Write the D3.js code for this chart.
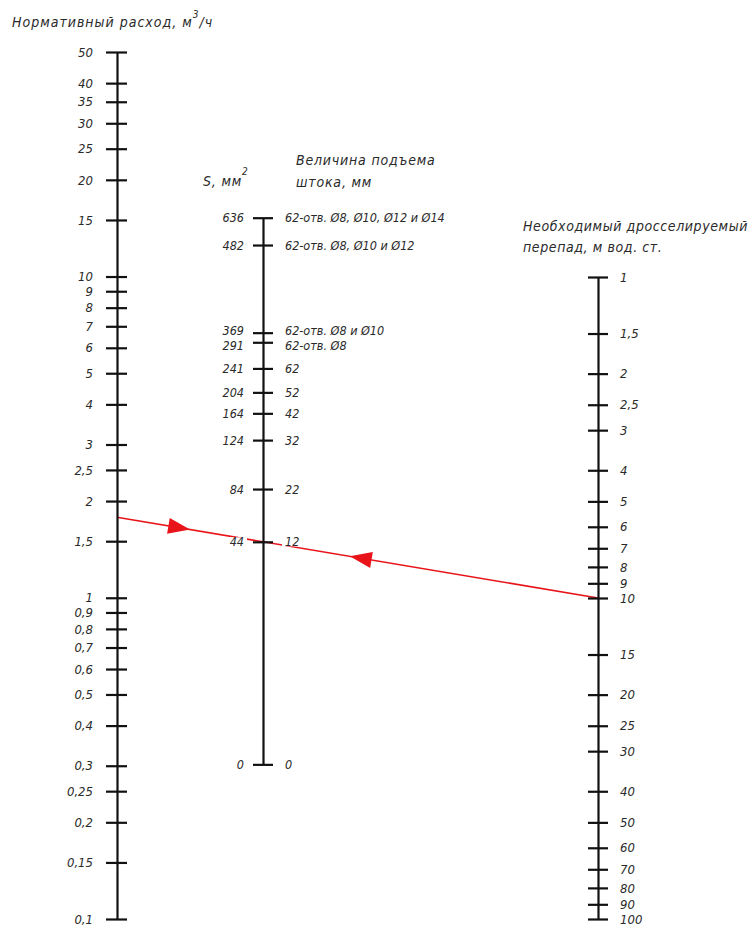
<!DOCTYPE html>
<html><head><meta charset="utf-8">
<script src="https://cdn.jsdelivr.net/npm/d3@7"></script>
<style>
html,body{margin:0;padding:0;background:#fff;}
text{font-family:"Liberation Sans Narrow","DejaVu Sans Condensed","Liberation Sans",sans-serif;font-style:italic;fill:#2a2a2a;}
</style></head><body>
<svg id="chart" width="752" height="930"></svg>
<script>
// ---- data ----
const flowTicks = [50,40,35,30,25,20,15,10,9,8,7,6,5,4,3,2.5,2,1.5,1,0.9,0.8,0.7,0.6,0.5,0.4,0.3,0.25,0.2,0.15,0.1];
const dropTicks = [1,1.5,2,2.5,3,4,5,6,7,8,9,10,15,20,25,30,40,50,60,70,80,90,100];
// middle scale: equivalent flow at 1 m head (m3/h) for each tick
const midKv     = [18.35,13.85,5.62,5.09,3.89,3.04,2.45,1.86,1.124,0.653,0.0661];
const areaS     = ["636","482","369","291","241","204","164","124","84","44","0"];
const liftLabels= ["62-отв. Ø8, Ø10, Ø12 и Ø14","62-отв. Ø8, Ø10 и Ø12","62-отв. Ø8 и Ø10","62-отв. Ø8","62","52","42","32","22","12","0"];
const exampleFlow = 1.78;   // m3/h
const exampleDrop = 10;     // m w.c.

// ---- layout ----
const svg = d3.select("#chart");
const xLeft = 117, xMid = 263, xRight = 598;
const left = d3.scaleLog().domain([0.1,50]).range([919,52]);
const right = d3.scaleLog().domain([1,100]).range([277,919]);
const tm = (xMid - xLeft)/(xRight - xLeft);
const midDomain = [d3.min(midKv), d3.max(midKv)];
const mid = d3.scaleLog().domain(midDomain)
  .range(midDomain.map(v => (1-tm)*left(v) + tm*right(1)));

const fmt = d => String(d).replace('.', ',');
const ink = "#111";

// ---- example line ----
const p0 = [xLeft, left(exampleFlow)], p1 = [xRight, right(exampleDrop)];
svg.append("line").attr("x1",p0[0]).attr("y1",p0[1]).attr("x2",p1[0]).attr("y2",p1[1])
  .attr("stroke","#e8141a").attr("stroke-width",1.6);
const ang = Math.atan2(p1[1]-p0[1], p1[0]-p0[0]);
function arrow(f, dir){
  const x = p0[0] + f*(p1[0]-p0[0]), y = p0[1] + f*(p1[1]-p0[1]);
  const a = dir > 0 ? ang : ang + Math.PI;
  const L = 22, hw = 8;
  const bx = x - L*Math.cos(a), by = y - L*Math.sin(a);
  const nx = -Math.sin(a)*hw, ny = Math.cos(a)*hw;
  svg.append("path").attr("d",`M${x},${y}L${bx+nx},${by+ny}L${bx-nx},${by-ny}Z`).attr("fill","#e8141a");
}
arrow(0.152, 1);
arrow(0.484, -1);

function styleAxis(g, t1, t2, lx, anchor, fs){
  g.select(".domain").attr("stroke",ink).attr("stroke-width",2.2);
  g.selectAll(".tick line").attr("x1",t1).attr("x2",t2).attr("stroke",ink).attr("stroke-width",2.2);
  g.selectAll(".tick text").attr("x",lx).attr("text-anchor",anchor)
    .attr("font-size",fs).attr("font-family",null).attr("fill","#2a2a2a");
}

// left axis
const gL = svg.append("g").attr("transform",`translate(${xLeft},0)`)
  .call(d3.axisLeft(left).tickValues(flowTicks).tickFormat(fmt).tickSizeOuter(0));
styleAxis(gL, -11, 10, -24, "end", 13);

// right axis
const gR = svg.append("g").attr("transform",`translate(${xRight},0)`)
  .call(d3.axisRight(right).tickValues(dropTicks).tickFormat(fmt).tickSizeOuter(0));
styleAxis(gR, -10, 10, 22, "start", 13);

// middle axis
const gM = svg.append("g").attr("transform",`translate(${xMid},0)`)
  .call(d3.axisLeft(mid).tickValues(midKv).tickFormat((d,i) => areaS[i]).tickSizeOuter(0));
styleAxis(gM, -10, 10, -19, "end", 12.5);
gM.selectAll(".tick").append("text")
  .attr("x",22).attr("dy","0.32em").attr("text-anchor","start").attr("font-size",12.5).attr("fill","#2a2a2a")
  .text((d,i) => liftLabels[i]);
// the two close ticks (369, 291): nudge labels apart
gM.selectAll(".tick").filter((d,i) => i === 2).selectAll("text").attr("y",-2);
gM.selectAll(".tick").filter((d,i) => i === 3).selectAll("text").attr("y",3);
// white backing behind middle labels
gM.selectAll(".tick").each(function(){
  const tk = d3.select(this);
  tk.selectAll("text").each(function(){
    const b = this.getBBox();
    tk.insert("rect","text").attr("x",b.x-3).attr("y",b.y+3).attr("width",b.width+6).attr("height",b.height-6).attr("fill","#fff");
  });
});
gM.selectAll(".tick line").raise();

// ---- titles ----
const ls = 0.8;
const t1 = svg.append("text").attr("x",12).attr("y",27).attr("font-size",14).attr("letter-spacing",1);
t1.append("tspan").text("Нормативный расход, м");
t1.append("tspan").attr("dy",-9).attr("font-size",10).text("3");
t1.append("tspan").attr("dy",9).text("/ч");

const t2 = svg.append("text").attr("x",203).attr("y",186).attr("font-size",14).attr("letter-spacing",ls);
t2.append("tspan").text("S, мм");
t2.append("tspan").attr("dy",-11).attr("font-size",10).text("2");

svg.append("text").attr("x",296).attr("y",165).attr("font-size",14).attr("letter-spacing",ls).text("Величина подъема");
svg.append("text").attr("x",296).attr("y",187).attr("font-size",14).attr("letter-spacing",ls).text("штока, мм");
svg.append("text").attr("x",523).attr("y",231).attr("font-size",14).attr("letter-spacing",0.6).text("Необходимый дросселируемый");
svg.append("text").attr("x",523).attr("y",252).attr("font-size",14).attr("letter-spacing",0.6).text("перепад, м вод. ст.");
</script></body></html>
